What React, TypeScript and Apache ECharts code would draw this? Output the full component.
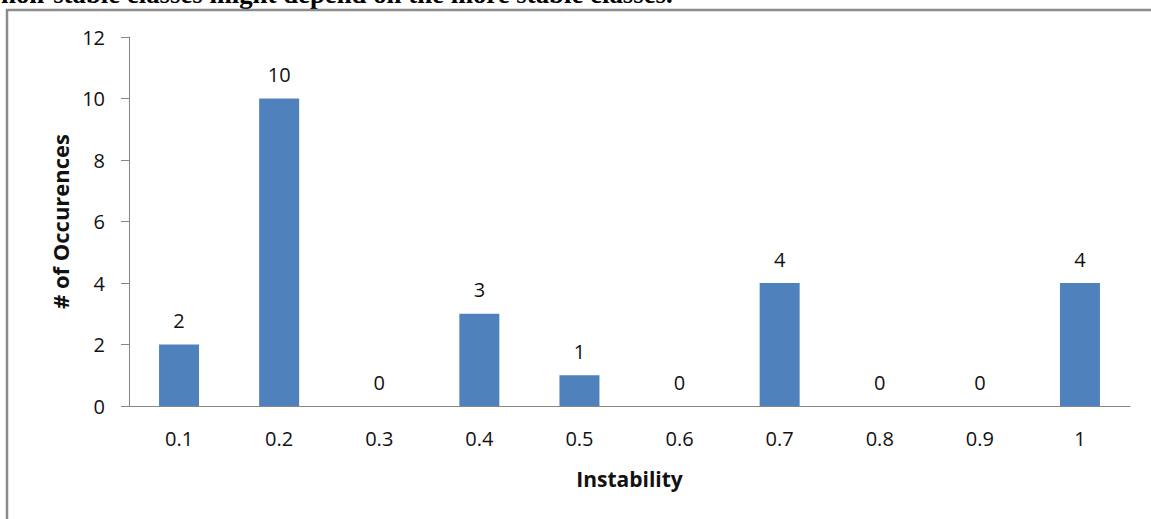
import React, { useEffect, useRef } from "react";
import * as echarts from "echarts";

const categories = ["0.1", "0.2", "0.3", "0.4", "0.5", "0.6", "0.7", "0.8", "0.9", "1"];
const occurrences = [2, 10, 0, 3, 1, 0, 4, 0, 0, 4];
const captionText = "non-stable classes might depend on the more stable classes.";
const xAxisTitle = "Instability";
const yAxisTitle = "# of Occurences";

const labelFont = "'Open Sans', 'Liberation Sans', sans-serif";
const axisGray = "#868686";

export default function App() {
  const ref = useRef<HTMLDivElement>(null);

  useEffect(() => {
    if (!ref.current) return;
    const chart = echarts.init(ref.current, null, { renderer: "svg" });
    chart.setOption({
      animation: false,
      backgroundColor: "#ffffff",
      grid: { left: 129, right: 21, top: 37, bottom: 113, containLabel: false },
      graphic: [
        {
          type: "text",
          left: 1,
          top: -20,
          style: {
            text: captionText,
            font: "bold 26.8px 'Liberation Serif', 'Times New Roman', serif",
            fill: "#000000",
          },
          z: 10,
        },
        {
          type: "polyline",
          shape: { points: [[7, 530], [7, 10], [1160, 10]] },
          style: { stroke: "#8c8c8c", lineWidth: 2.5, fill: "none" },
          z: 10,
        },
      ],
      xAxis: {
        type: "category",
        data: categories,
        axisLine: { show: true, lineStyle: { color: axisGray, width: 1 } },
        axisTick: { show: false },
        axisLabel: { color: "#111111", fontSize: 20, fontFamily: labelFont, margin: 22 },
        name: xAxisTitle,
        nameLocation: "middle",
        nameGap: 62,
        nameTextStyle: { color: "#111111", fontSize: 21, fontWeight: "bold", fontFamily: labelFont },
      },
      yAxis: {
        type: "value",
        min: 0,
        max: 12,
        interval: 2,
        axisLine: { show: true, lineStyle: { color: axisGray, width: 1 } },
        axisTick: { show: true, inside: false, length: 8, lineStyle: { color: axisGray } },
        splitLine: { show: false },
        axisLabel: { color: "#111111", fontSize: 20, fontFamily: labelFont, margin: 24 },
        name: yAxisTitle,
        nameLocation: "middle",
        nameGap: 57,
        nameRotate: 90,
        nameTextStyle: { color: "#111111", fontSize: 22, fontWeight: "bold", fontFamily: labelFont },
      },
      series: [
        {
          type: "bar",
          data: occurrences,
          barWidth: 40,
          itemStyle: { color: "#4f81bd" },
          label: {
            show: true,
            position: "top",
            distance: 14,
            color: "#111111",
            fontSize: 20,
            fontFamily: labelFont,
          },
        },
      ],
    });
    return () => chart.dispose();
  }, []);

  return (
    <div
      ref={ref}
      style={{ position: "absolute", left: 0, top: 0, width: 1151, height: 519, overflow: "hidden" }}
    />
  );
}
